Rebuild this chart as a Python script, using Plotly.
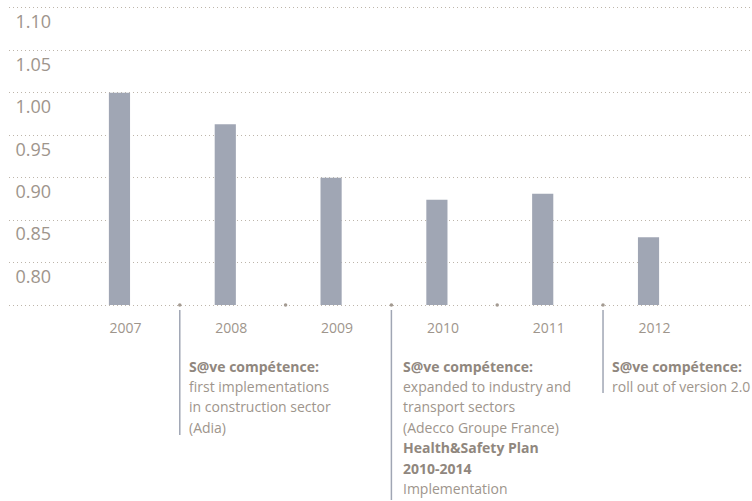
import plotly.graph_objects as go

years = ["2007", "2008", "2009", "2010", "2011", "2012"]
values = [1.00, 0.963, 0.900, 0.874, 0.881, 0.830]
y_ticks = [0.75, 0.80, 0.85, 0.90, 0.95, 1.00, 1.05, 1.10]
y_ticklabels = ["", "0.80", "0.85", "0.90", "0.95", "1.00", "1.05", "1.10"]
LABEL_OFFSET = 0.0165  # labels sit just below their gridline

milestone_pos = [0.57, 1.57, 2.57, 3.57, 4.57]
milestones = [
    (0.57, 0.64, ["<b>S@ve compétence:</b>", "first implementations",
                  "in construction sector", "(Adia)"], 435),
    (2.57, 2.665, ["<b>S@ve compétence:</b>", "expanded to industry and",
                   "transport sectors", "(Adecco Groupe France)",
                   "<b>Health&Safety Plan</b>", "<b>2010-2014</b>", "Implementation"], 500),
    (4.57, 4.64, ["<b>S@ve compétence:</b>", "roll out of version 2.0"], 393),
]

TXT = "#9e958c"
BOLD = "#90877e"
BAR = "#a0a6b4"
GRID = "#bdb5aa"
FONT = "Open Sans"

W, H = 752, 501
ml, mr, mt, mb = 9, 0, 5, 193
plot_h = H - mt - mb
plot_w = W - ml - mr

x = list(range(len(years)))
fig = go.Figure()
fig.add_trace(go.Bar(x=x, y=[v - 0.75 for v in values], base=0.75, width=0.2,
                     marker=dict(color=BAR, line=dict(width=0)), hoverinfo="skip"))
fig.add_trace(go.Scatter(x=milestone_pos, y=[0.75] * len(milestone_pos), mode="markers",
                         marker=dict(color="#a39a91", size=3.5), hoverinfo="skip", cliponaxis=False))

def py(p):
    return (H - mb - p) / plot_h

for xl, xt, lines, yend in milestones:
    fig.add_shape(type="line", xref="x", yref="paper", x0=xl, x1=xl,
                  y0=py(310), y1=py(yend), line=dict(color=BAR, width=1.5))
    for k, ln in enumerate(lines):
        fig.add_annotation(xref="x", yref="paper", x=xt, y=py(366 + 20.4 * k),
                           text=ln, showarrow=False, xanchor="left", yanchor="middle",
                           font=dict(family=FONT, size=14,
                                     color=BOLD if ln.startswith("<b>") else TXT))

fig.update_layout(
    width=W, height=H, margin=dict(l=ml, r=mr, t=mt, b=mb, autoexpand=False),
    paper_bgcolor="white", plot_bgcolor="white", showlegend=False,
    xaxis=dict(range=[-1.044, 5.978], tickvals=x, ticktext=years, showgrid=False,
               zeroline=False, showline=False, ticks="", ticklabelshift=6,
               ticklabelstandoff=10, automargin=False,
               tickfont=dict(family=FONT, size=14, color=TXT)),
    yaxis=dict(range=[0.7465, 1.1035],
               tickvals=[v - LABEL_OFFSET for v in y_ticks], ticktext=y_ticklabels,
               showgrid=False, zeroline=False, showline=False, ticks="", automargin=False,
               anchor="free", position=(51 - ml) / plot_w,
               minor=dict(tickvals=y_ticks, showgrid=True, gridcolor=GRID,
                          griddash="1px,3px", gridwidth=1, ticks=""),
               tickfont=dict(family=FONT, size=18, color=TXT)),
)
fig.write_html("out.html", config={"displayModeBar": False},
               post_script="document.body.style.margin='0';")
